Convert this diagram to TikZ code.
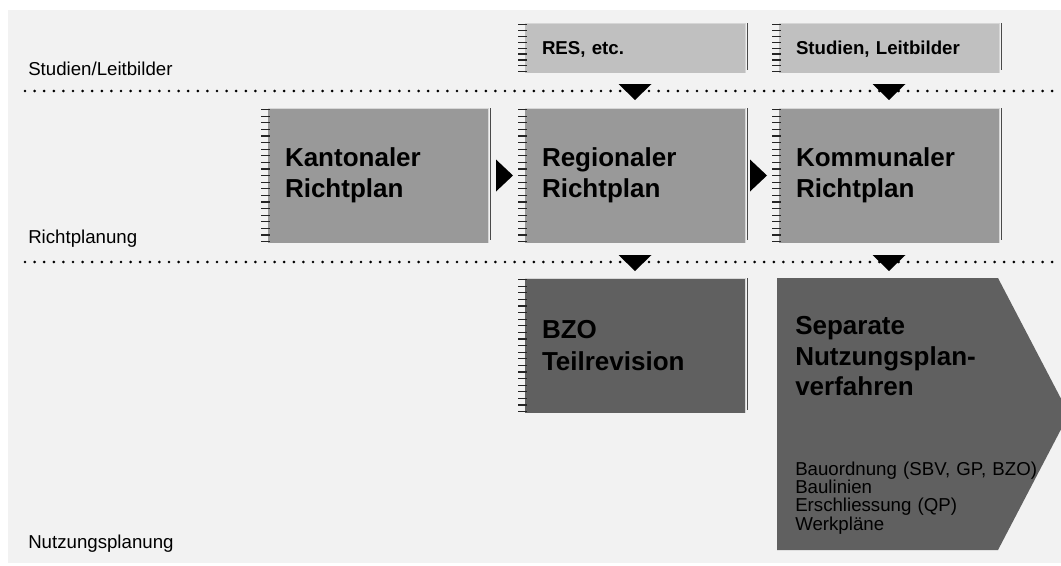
\documentclass[tikz,border=0pt]{standalone}
\usepackage{fontspec}
\setmainfont{Liberation Sans}
\usetikzlibrary{calc, positioning}
\definecolor{bgfill}{HTML}{F2F2F2}
\definecolor{lightbox}{HTML}{C0C0C0}
\definecolor{midbox}{HTML}{999999}
\definecolor{darkbox}{HTML}{606060}
\definecolor{edgeline}{HTML}{4A4A4A}
\definecolor{rimline}{HTML}{D6D6D6}

% binding ticks along the left side of a panel
\newcommand{\bindticks}[2]{%
  \foreach \k in {0,...,#2}{
    \draw[tick] ($([yshift=-1.2pt]#1.north west)!\k/#2!([yshift=1pt]#1.south west)$) ++(-7,0) -- ++(9,0);
  }}
% light rim on top and right, dark line beside the right side
\newcommand{\paneltrim}[1]{%
  \draw[rimline, line width=0.6pt] (#1.north west) -- (#1.north east) -- (#1.south east);
  \draw[edgeline, line width=0.9pt] ([xshift=1.8pt]#1.north east) -- ([xshift=1.8pt,yshift=2pt]#1.south east);}

\begin{document}
\begin{tikzpicture}[x=0.75pt, y=-0.75pt,
  panel/.style={anchor=north west, inner xsep=12.75pt, inner ysep=0pt, outer sep=0pt,
              text width=139.5pt, align=left, minimum height=101.25pt,
              font=\bfseries\fontsize{19.5}{23.6}\selectfont},
  toppanel/.style={panel, fill=lightbox, minimum height=37.5pt, text depth=0pt,
              font=\bfseries\fontsize{14}{16}\selectfont},
  tick/.style={line width=0.9pt, black!85},
  dots/.style={line width=2.2pt, line cap=round, dash pattern=on 0pt off 7.2pt},
  flowmark/.style={fill=black},
  level/.style={anchor=base west, inner sep=0pt, font=\fontsize{14}{16}\selectfont},
]
\useasboundingbox (0,0) rectangle (1061,565);
\clip (0,0) rectangle (1061,565);
\fill[bgfill] (8,10) rectangle (1061,563);

% level lines
\coordinate (d1) at (25,91);
\coordinate (d1e) at (1061,91);
\coordinate (d2) at (25,262);
\coordinate (d2e) at (1061,262);
\draw[dots] (d1) -- (d1e);
\draw[dots] (d2) -- (d2e);

% level labels
\node[level] (lstud) at (28,75) {Studien/Leitbilder};
\node[level] (lricht) at (28,243) {Richtplanung};
\node[level] (lnutz) at (28,548) {Nutzungsplanung};

% panels
\node[toppanel] (res) at (525,23) {RES, etc.};
\node[toppanel] (stud) at (779,23) {Studien, Leitbilder};
\node[panel, fill=midbox] (kant) at (268,108) {Kantonaler\\Richtplan};
\node[panel, fill=midbox] (reg) at (525,108) {Regionaler\\Richtplan};
\node[panel, fill=midbox] (komm) at (779,108) {Kommunaler\\Richtplan};
\node[panel, fill=darkbox] (bzo) at (525,278) {BZO\\Teilrevision};

\foreach \p/\n in {res/8, stud/8, kant/20, reg/20, komm/20, bzo/20}{
  \paneltrim{\p}
  \bindticks{\p}{\n}
}

% procedure arrow
\fill[darkbox] (777,278) -- (998,278) -- (1069,414) -- (998,550) -- (777,550) -- cycle;
\node[anchor=north west, inner sep=0pt, text width=200pt, align=left,
      font=\bfseries\fontsize{19.5}{23}\selectfont] (septitle) at (795,316)
  {Separate\\Nutzungsplan-\\verfahren};
\node[below right=49pt and 0pt of septitle.south west, inner sep=0pt,
      text width=200pt, align=left, font=\fontsize{14}{13.7}\selectfont] (seplist)
  {Bauordnung (SBV, GP, BZO)\\Baulinien\\Erschliessung (QP)\\Werkpläne};

% flow marks
\fill[flowmark] ($(reg.west)+(-29,-16)$) -- ++(17,16) -- ++(-17,16) -- cycle;
\fill[flowmark] ($(komm.west)+(-29,-16)$) -- ++(17,16) -- ++(-17,16) -- cycle;
\foreach \b/\d in {res/d1, stud/d1, reg/d2, komm/d2}{
  \fill[flowmark] (\b.south |- \d) ++(-16.5,-7) -- ++(33,0) -- ++(-16.5,16) -- cycle;
}
\end{tikzpicture}
\end{document}
